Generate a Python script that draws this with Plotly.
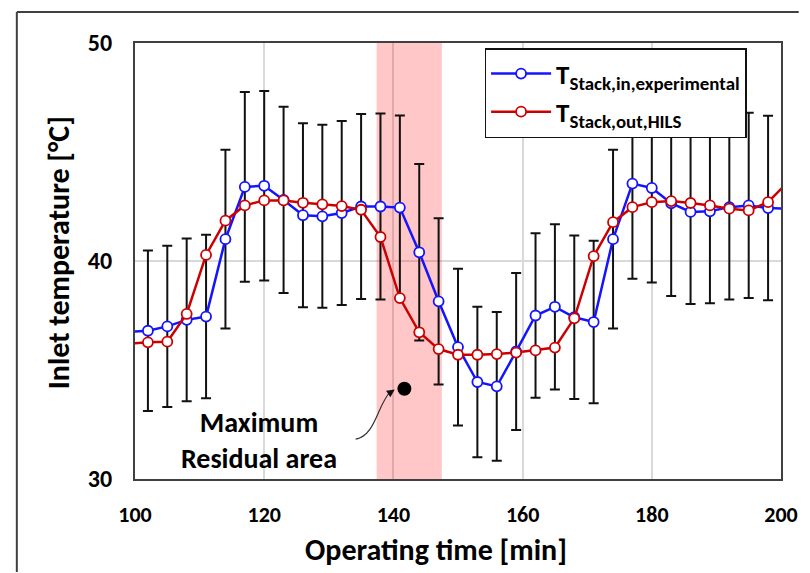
import plotly.graph_objects as go

# ---------------- data ----------------
time_min = [99, 102, 105, 108, 111, 114, 117, 120, 123, 126, 129, 132, 135, 138, 141, 144, 147,
            150, 153, 156, 159, 162, 165, 168, 171, 174, 177, 180, 183, 186, 189, 192, 195, 198, 201]
t_in_experimental = [36.75, 36.8, 37.0, 37.3, 37.45, 41.0, 43.4, 43.45, 42.8, 42.1, 42.05, 42.2, 42.5,
                     42.5, 42.45, 40.4, 38.15, 36.05, 34.45, 34.25, 35.85, 37.5, 37.9, 37.42, 37.2,
                     41.0, 43.55, 43.35, 42.65, 42.25, 42.28, 42.47, 42.55, 42.43, 42.4]
t_out_hils = [36.2, 36.27, 36.3, 37.57, 40.28, 41.85, 42.55, 42.78, 42.78, 42.67, 42.6, 42.52, 42.35,
              41.1, 38.3, 36.73, 35.96, 35.7, 35.7, 35.73, 35.8, 35.9, 36.03, 37.37, 40.22, 41.78,
              42.47, 42.7, 42.75, 42.66, 42.55, 42.4, 42.32, 42.7, 43.6]
error_half = [3.7, 3.68, 3.7, 3.73, 3.75, 4.1, 4.35, 4.35, 4.27, 4.22, 4.2, 4.22, 4.24, 4.27, 4.22,
              4.05, 3.81, 3.6, 3.45, 3.41, 3.6, 3.77, 3.79, 3.75, 3.73, 4.1, 4.36, 4.34, 4.26, 4.22,
              4.22, 4.24, 4.25, 4.23, 4.24]
residual_dot_x = [141.7]
residual_dot_y = [34.14]
residual_area = (137.4, 147.5)
x_ticks = [100, 120, 140, 160, 180, 200]
y_ticks = [30, 40, 50]

FONT = "Carlito, Calibri, 'Open Sans', sans-serif"
BLUE = "#1414ff"
RED = "#cc0000"
FRAME = "#404040"

# page offset of the plot div (body margin) is 8px; plot area target in page px: 135..791 x 43..479
PL, PR, PT, PB = 135, 791, 43, 479
PW, PH = PR - PL, PB - PT


def px(xp):
    return (xp - PL) / PW


def py(yp):
    return (PB - yp) / PH


fig = go.Figure()

# error bars (only points inside the visible range)
eb_idx = [i for i, t in enumerate(time_min) if 100 <= t <= 200]
fig.add_trace(go.Scatter(
    x=[time_min[i] for i in eb_idx], y=[t_in_experimental[i] for i in eb_idx],
    mode="markers", marker=dict(size=1, opacity=0), showlegend=False, hoverinfo="skip",
    error_y=dict(type="data", array=[error_half[i] for i in eb_idx], visible=True,
                 color="#111111", thickness=2, width=5),
))

fig.add_trace(go.Scatter(
    x=time_min, y=t_in_experimental, mode="lines+markers",
    name="<b>T<sub>Stack,in,experimental</sub></b>",
    line=dict(color=BLUE, width=2.5),
    marker=dict(symbol="circle", size=10, color="white", line=dict(color=BLUE, width=1.8)),
))
fig.add_trace(go.Scatter(
    x=time_min, y=t_out_hils, mode="lines+markers",
    name="<b>T<sub>Stack,out,HILS</sub></b>",
    line=dict(color=RED, width=2.5),
    marker=dict(symbol="circle", size=10, color="white", line=dict(color=RED, width=1.8)),
))
fig.add_trace(go.Scatter(
    x=residual_dot_x, y=residual_dot_y, mode="markers", showlegend=False,
    marker=dict(size=14, color="black"),
))

# shaded maximum residual area
fig.add_shape(type="rect", xref="x", yref="y", x0=residual_area[0], x1=residual_area[1],
              y0=30, y1=50, fillcolor="rgba(255,0,0,0.22)", line=dict(width=0), layer="between")

# curved arrow toward the dot
fig.add_shape(type="path", xref="x", yref="y",
              path="M 134.15 31.83 C 137.3 31.97, 137.6 33.5, 139.6 34.02",
              line=dict(color="#333333", width=1.2), layer="above")
fig.add_annotation(x=140.2, y=34.1, xref="x", yref="y", text="", showarrow=True,
                   ax=-6, ay=4, arrowhead=2, arrowsize=1.3, arrowwidth=1.2, arrowcolor="#111111")

fig.add_annotation(xref="paper", yref="paper", x=px(261), y=py(440), xanchor="center",
                   yanchor="middle", text="<b>Maximum<br>Residual area</b>", showarrow=False,
                   font=dict(family=FONT, size=28, color="black"), align="center")

# axis titles
fig.add_annotation(xref="paper", yref="paper", x=px(441), y=py(549), xanchor="center",
                   yanchor="middle", text="<b>Operating time [min]</b>", showarrow=False,
                   font=dict(family=FONT, size=30, color="black"))
fig.add_annotation(xref="paper", yref="paper", x=px(57), y=py(253), xanchor="center",
                   yanchor="middle", text="<b>Inlet temperature [°C]</b>", showarrow=False,
                   textangle=-90, font=dict(family=FONT, size=30, color="black"))

# outer frame (top and left edge of the figure border)
fig.add_shape(type="line", xref="paper", yref="paper", x0=px(15), x1=px(809), y0=py(12), y1=py(12),
              line=dict(color=FRAME, width=2))
fig.add_shape(type="line", xref="paper", yref="paper", x0=px(15), x1=px(15), y0=py(12), y1=py(572),
              line=dict(color=FRAME, width=2))

fig.update_xaxes(range=[100, 200], tickvals=x_ticks, showline=True, mirror=True,
                 linecolor=FRAME, linewidth=2, showgrid=True, gridcolor="#d9d9d9", gridwidth=1.5,
                 zeroline=False, ticks="", ticklabelstandoff=15,
                 tickfont=dict(family=FONT, size=22, color="black", weight="bold"))
fig.update_yaxes(range=[30, 50], tickvals=y_ticks, showline=True, mirror=True,
                 linecolor=FRAME, linewidth=2, showgrid=True, gridcolor="#d9d9d9", gridwidth=1.5,
                 zeroline=False, ticks="", ticklabelstandoff=16,
                 tickfont=dict(family=FONT, size=24, color="black", weight="bold"))

W, H = 802, 565
fig.update_layout(
    width=W, height=H,
    margin=dict(l=PL - 8, r=(W + 8) - PR, t=PT - 8, b=(H + 8) - PB),
    plot_bgcolor="white", paper_bgcolor="white",
    showlegend=True,
    legend=dict(x=px(490), y=py(48), xanchor="left", yanchor="top",
                bgcolor="white", bordercolor="#111111", borderwidth=1.5,
                font=dict(family=FONT, size=27, color="black"), itemwidth=60),
)

fig.write_html("out.html")
